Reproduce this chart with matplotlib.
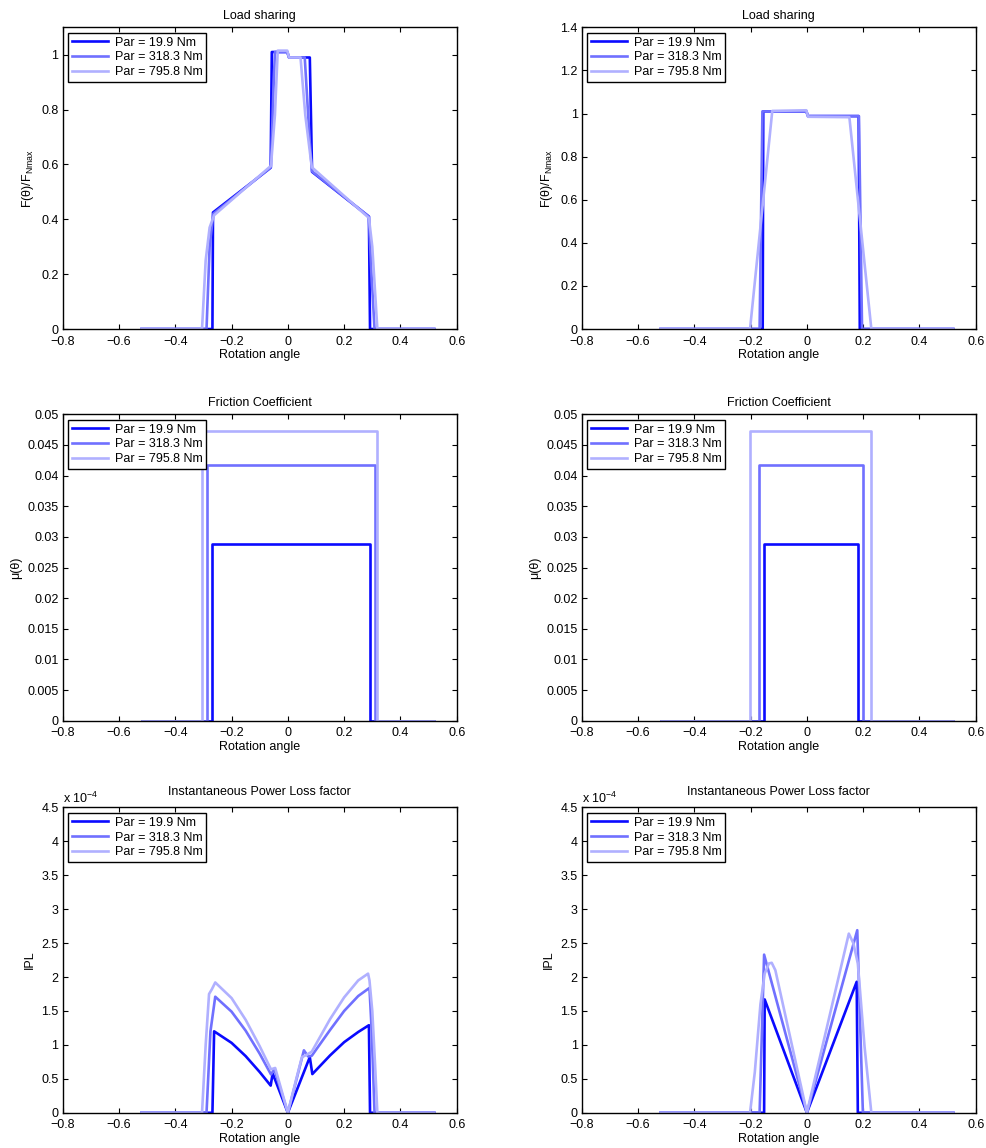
"""Load sharing, friction coefficient and power loss along the path of contact,
for three input torques (left: one gear pair, right: the other)."""

import matplotlib
matplotlib.use("Agg")
import matplotlib.pyplot as plt
from matplotlib.ticker import FuncFormatter, MultipleLocator

plt.rcParams["font.family"] = ["Liberation Sans", "DejaVu Sans"]
plt.rcParams["font.size"] = 9

labels = ["Par = 19.9 Nm", "Par = 318.3 Nm", "Par = 795.8 Nm"]
colors = ["#0A0AFF", "#7070FF", "#B0B0FF"]

# ---- load sharing F/FNmax, left column ----
load_l_x1 = [-0.52, -0.268, -0.266, -0.061, -0.057, -0.002, 0.004, 0.078, 0.086, 0.288, 0.292, 0.52]
load_l_y1 = [0, 0, 0.425, 0.588, 1.01, 1.01, 0.99, 0.99, 0.573, 0.41, 0, 0]
load_l_x2 = [-0.52, -0.289, -0.278, -0.265, -0.060, -0.052, -0.046, -0.002, 0.004, 0.060,
             0.078, 0.086, 0.288, 0.296, 0.308, 0.52]
load_l_y2 = [0, 0, 0.30, 0.42, 0.59, 0.85, 1.01, 1.01, 0.99, 0.99, 0.68, 0.575, 0.41, 0.22, 0, 0]
load_l_x3 = [-0.52, -0.305, -0.292, -0.278, -0.262, -0.060, -0.046, -0.036, -0.002, 0.004, 0.045,
             0.062, 0.085, 0.288, 0.300, 0.318, 0.52]
load_l_y3 = [0, 0, 0.25, 0.37, 0.415, 0.595, 0.78, 1.015, 1.015, 0.99, 0.99, 0.78, 0.59, 0.405,
             0.30, 0, 0]

# ---- load sharing, right column ----
load_r_x1 = [-0.52, -0.157, -0.155, -0.002, 0.004, 0.184, 0.188, 0.52]
load_r_y1 = [0, 0, 1.01, 1.01, 0.988, 0.988, 0, 0]
load_r_x2 = [-0.52, -0.168, -0.158, -0.002, 0.004, 0.185, 0.196, 0.52]
load_r_y2 = [0, 0, 1.01, 1.01, 0.988, 0.988, 0, 0]
load_r_x3 = [-0.52, -0.202, -0.123, -0.002, 0.004, 0.151, 0.229, 0.52]
load_r_y3 = [0, 0, 1.012, 1.015, 0.985, 0.983, 0, 0]

# ---- friction coefficient (constant over contact) ----
fric_level = [0.0289, 0.0418, 0.0473]
fric_l_start = [-0.268, -0.289, -0.305]
fric_l_end = [0.292, 0.308, 0.318]
fric_r_start = [-0.152, -0.170, -0.202]
fric_r_end = [0.183, 0.201, 0.229]
x_span = [-0.52, 0.52]

# ---- instantaneous power loss, units of 1e-4 ----
ipl_l_x1 = [-0.52, -0.268, -0.262, -0.2, -0.15, -0.1, -0.061, -0.054, 0.0, 0.04, 0.078, 0.087,
            0.15, 0.2, 0.25, 0.288, 0.292, 0.52]
ipl_l_y1 = [0, 0, 1.2, 1.03, 0.835, 0.60, 0.40, 0.58, 0.0, 0.42, 0.82, 0.57, 0.845, 1.04, 1.19,
            1.29, 0, 0]
ipl_l_x2 = [-0.52, -0.289, -0.275, -0.258, -0.2, -0.15, -0.1, -0.06, -0.048, 0.0, 0.03, 0.057,
            0.072, 0.085, 0.15, 0.2, 0.25, 0.29, 0.298, 0.308, 0.52]
ipl_l_y2 = [0, 0, 1.2, 1.71, 1.49, 1.21, 0.87, 0.565, 0.64, 0.0, 0.48, 0.92, 0.83, 0.84, 1.22,
            1.5, 1.72, 1.84, 1.2, 0, 0]
ipl_l_x3 = [-0.52, -0.305, -0.292, -0.28, -0.27, -0.258, -0.2, -0.15, -0.1, -0.06, -0.045, 0.0,
            0.03, 0.05, 0.065, 0.085, 0.15, 0.2, 0.25, 0.285, 0.29, 0.30, 0.31, 0.318, 0.52]
ipl_l_y3 = [0, 0, 1.0, 1.75, 1.82, 1.92, 1.69, 1.37, 0.98, 0.64, 0.66, 0.0, 0.5, 0.82, 0.85, 0.9,
            1.38, 1.70, 1.95, 2.05, 1.95, 1.5, 0.7, 0, 0]

ipl_r_x1 = [-0.52, -0.152, -0.150, 0.0, 0.177, 0.181, 0.52]
ipl_r_y1 = [0, 0, 1.67, 0.0, 1.93, 0, 0]
ipl_r_x2 = [-0.52, -0.168, -0.152, 0.0, 0.179, 0.199, 0.52]
ipl_r_y2 = [0, 0, 2.33, 0.0, 2.69, 0, 0]
ipl_r_x3 = [-0.52, -0.202, -0.185, -0.165, -0.15, -0.135, -0.125, -0.112, 0.0, 0.149, 0.165,
            0.181, 0.205, 0.229, 0.52]
ipl_r_y3 = [0, 0, 0.6, 1.6, 2.05, 2.2, 2.21, 2.1, 0.0, 2.64, 2.5, 2.2, 0.97, 0, 0]


def step_profile(start, end, level):
    """Rectangle pulse spanning the plotted angle range."""
    return ([x_span[0], start, start, end, end, x_span[1]],
            [0, 0, level, level, 0, 0])


def fmt(v, _pos):
    return ("%g" % round(v, 6)).replace("-", "\u2212")


def style_axes(ax, title, ylabel, ylim, ystep, title_pad=6):
    ax.set_xlim(-0.8, 0.6)
    ax.set_ylim(*ylim)
    ax.xaxis.set_major_locator(MultipleLocator(0.2))
    ax.yaxis.set_major_locator(MultipleLocator(ystep))
    ax.xaxis.set_major_formatter(FuncFormatter(fmt))
    ax.yaxis.set_major_formatter(FuncFormatter(fmt))
    ax.tick_params(direction="in", top=True, right=True, length=3.5, width=0.8,
                   labelsize=9)
    ax.tick_params(axis="x", pad=4.8)
    ax.tick_params(axis="y", pad=3)
    for s in ax.spines.values():
        s.set_linewidth(1.0)
    ax.set_title(title, fontsize=9, pad=title_pad)
    ax.set_xlabel("Rotation angle", fontsize=9, labelpad=1)
    ax.set_ylabel(ylabel, fontsize=9)
    leg = ax.legend(loc="upper left", fontsize=9, fancybox=False, framealpha=1,
                    edgecolor="black", handlelength=2.9, labelspacing=0.22,
                    borderpad=0.3, borderaxespad=0.45, handletextpad=0.5)
    leg.get_frame().set_linewidth(1.0)


fig = plt.figure(figsize=(9.86, 11.48), dpi=100)
col_left = [0.0636, 0.590]
width = 0.3996
rows = [(0.7134, 0.2628), (0.3722, 0.2669), (0.0307, 0.2660)]
lw = 1.9

load_sets = [
    [(load_l_x1, load_l_y1), (load_l_x2, load_l_y2), (load_l_x3, load_l_y3)],
    [(load_r_x1, load_r_y1), (load_r_x2, load_r_y2), (load_r_x3, load_r_y3)],
]
fric_sets = [(fric_l_start, fric_l_end), (fric_r_start, fric_r_end)]
ipl_sets = [
    [(ipl_l_x1, ipl_l_y1), (ipl_l_x2, ipl_l_y2), (ipl_l_x3, ipl_l_y3)],
    [(ipl_r_x1, ipl_r_y1), (ipl_r_x2, ipl_r_y2), (ipl_r_x3, ipl_r_y3)],
]
load_ylim = [(0, 1.1), (0, 1.4)]

for c in range(2):
    # load sharing
    ax = fig.add_axes([col_left[c], rows[0][0], width, rows[0][1]])
    for (x, y), col, lab in zip(load_sets[c], colors, labels):
        ax.plot(x, y, color=col, lw=lw, label=lab)
    style_axes(ax, "Load sharing", "F(θ)/F$_\\mathregular{Nmax}$", load_ylim[c], 0.2)

    # friction coefficient
    ax = fig.add_axes([col_left[c], rows[1][0], width, rows[1][1]])
    starts, ends = fric_sets[c]
    for s, e, lev, col, lab in zip(starts, ends, fric_level, colors, labels):
        x, y = step_profile(s, e, lev)
        ax.plot(x, y, color=col, lw=lw, label=lab)
    style_axes(ax, "Friction Coefficient", "μ(θ)", (0, 0.05), 0.005)

    # instantaneous power loss
    ax = fig.add_axes([col_left[c], rows[2][0], width, rows[2][1]])
    for (x, y), col, lab in zip(ipl_sets[c], colors, labels):
        ax.plot(x, y, color=col, lw=lw, label=lab)
    style_axes(ax, "Instantaneous Power Loss factor", "IPL", (0, 4.5), 0.5, title_pad=9)
    ax.text(0.0, 1.004, "x 10$^{\\mathregular{-4}}$", transform=ax.transAxes,
            ha="left", va="bottom", fontsize=9)

fig.savefig("out.png", dpi=100)
